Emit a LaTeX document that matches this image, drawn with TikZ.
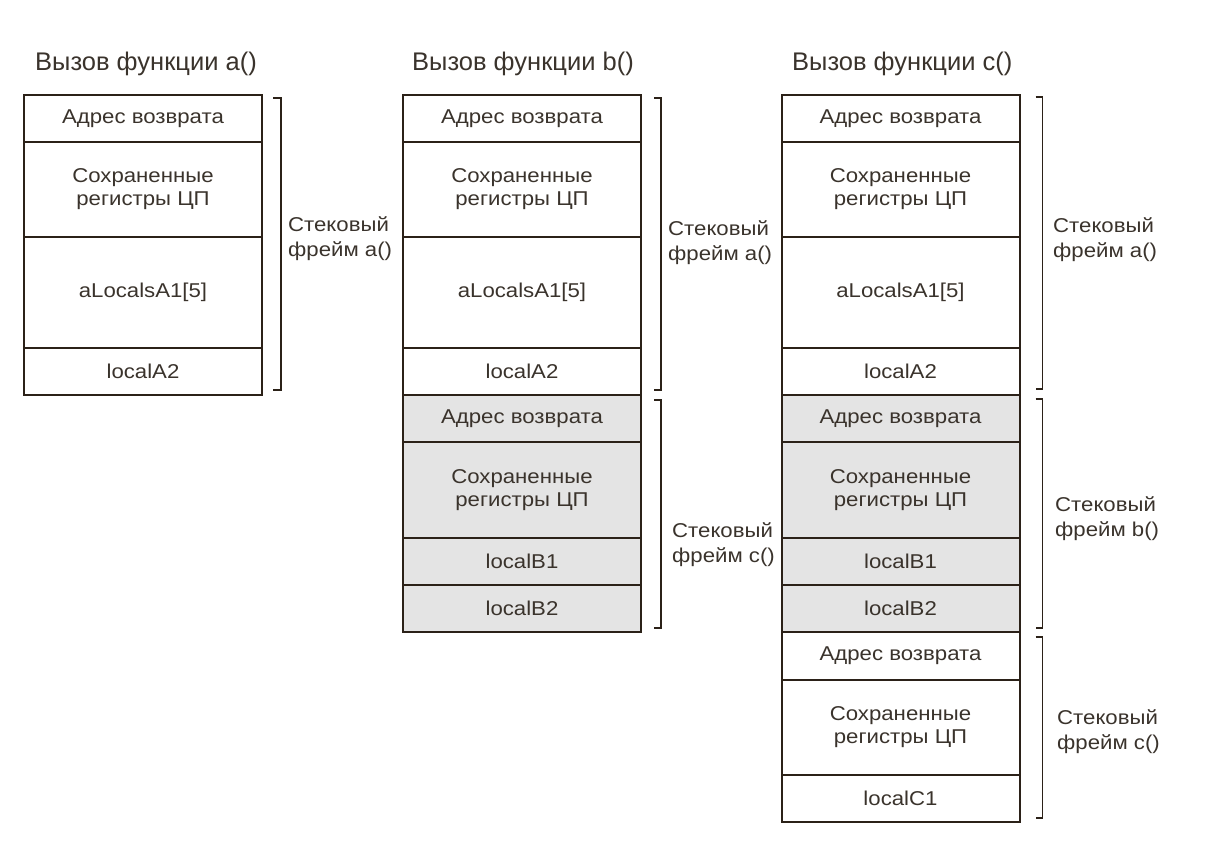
\documentclass[tikz,border=0pt]{standalone}
\usepackage{fontspec}
\setmainfont{Liberation Sans}
\newfontfamily\cellfont[FakeStretch=1.11]{Liberation Sans}
\usetikzlibrary{positioning,calc}
\definecolor{stackline}{HTML}{2B2118}
\definecolor{stacktext}{HTML}{3A332C}
\definecolor{stackgray}{HTML}{E4E4E4}
\tikzset{
  cellnode/.style args={#1,#2}{
  draw=stackline,
  line width=2pt,
  outer sep=0pt,
  inner sep=0pt,
  text=stacktext,
  align=center,
  font=\cellfont\fontsize{20}{23}\selectfont,
  minimum width=#1pt,
  minimum height=#2pt,
  },
  graycell/.style args={#1,#2}{cellnode={#1,#2},fill=stackgray},
  calltitle/.style={inner sep=0pt,anchor=base west,text=stacktext,
   font=\fontsize{25.5}{30}\selectfont},
  framelabel/.style={inner sep=0pt,anchor=west,align=left,text=stacktext,
   font=\cellfont\fontsize{20}{25}\selectfont},
  brace/.style={draw=stackline,line width=1.6pt}
}
\begin{document}
\begin{tikzpicture}[x=1pt,y=1pt]
  \useasboundingbox (0,0) rectangle (1227,-844);

  % call a()
  \node [calltitle] (ta) at (35,-70) {Вызов функции a()};
  \node [cellnode={238,47},anchor=north west] (a1) at (24,-95) {Адрес возврата};
  \node [cellnode={238,95},below=0pt of a1] (a2) {Сохраненные\\регистры ЦП};
  \node [cellnode={238,111},below=0pt of a2] (a3) {aLocalsA1[5]};
  \node [cellnode={238,47},below=0pt of a3] (a4) {localA2};

  \draw [brace] ($(a1.north east)+(11,-3)$) -- ++(8,0) -- ($(a4.south east)+(19,5)$) -- ++(-8,0);
  \node [framelabel] (fa) at (288,-238.5) {Стековый\\фрейм a()};

  % call b()
  \node [calltitle] (tb) at (412,-70) {Вызов функции b()};
  \node [cellnode={238,47},anchor=north west] (b1) at (403,-95) {Адрес возврата};
  \node [cellnode={238,95},below=0pt of b1] (b2) {Сохраненные\\регистры ЦП};
  \node [cellnode={238,111},below=0pt of b2] (b3) {aLocalsA1[5]};
  \node [cellnode={238,47},below=0pt of b3] (b4) {localA2};
  \node [graycell={238,47},below=0pt of b4] (b5) {Адрес возврата};
  \node [graycell={238,96},below=0pt of b5] (b6) {Сохраненные\\регистры ЦП};
  \node [graycell={238,47},below=0pt of b6] (b7) {localB1};
  \node [graycell={238,47},below=0pt of b7] (b8) {localB2};

  \draw [brace] ($(b1.north east)+(13,-3)$) -- ++(7,0) -- ($(b4.south east)+(20,5)$) -- ++(-7,0);
  \draw [brace] ($(b5.north east)+(13,-5)$) -- ++(7,0) -- ($(b8.south east)+(20,4)$) -- ++(-7,0);
  \node [framelabel] (fb1) at (668,-242.5) {Стековый\\фрейм a()};
  \node [framelabel] (fb2) at (672,-545) {Стековый\\фрейм c()};

  % call c()
  \node [calltitle] (tc) at (792,-70) {Вызов функции c()};
  \node [cellnode={238,47},anchor=north west] (c1) at (781.5,-95) {Адрес возврата};
  \node [cellnode={238,95},below=0pt of c1] (c2) {Сохраненные\\регистры ЦП};
  \node [cellnode={238,111},below=0pt of c2] (c3) {aLocalsA1[5]};
  \node [cellnode={238,47},below=0pt of c3] (c4) {localA2};
  \node [graycell={238,47},below=0pt of c4] (c5) {Адрес возврата};
  \node [graycell={238,96},below=0pt of c5] (c6) {Сохраненные\\регистры ЦП};
  \node [graycell={238,47},below=0pt of c6] (c7) {localB1};
  \node [graycell={238,47},below=0pt of c7] (c8) {localB2};
  \node [cellnode={238,48},below=0pt of c8] (c9) {Адрес возврата};
  \node [cellnode={238,95},below=0pt of c9] (c10) {Сохраненные\\регистры ЦП};
  \node [cellnode={238,47},below=0pt of c10] (c11) {localC1};

  \draw [brace] ($(c1.north east)+(16,-2)$) -- ++(7,0) -- ($(c4.south east)+(23,6)$) -- ++(-7,0);
  \draw [brace] ($(c5.north east)+(16,-4)$) -- ++(7,0) -- ($(c8.south east)+(23,4)$) -- ++(-7,0);
  \draw [brace] ($(c9.north east)+(16,-5)$) -- ++(7,0) -- ($(c11.south east)+(23,4)$) -- ++(-7,0);
  \node [framelabel] (fc1) at (1053,-239.5) {Стековый\\фрейм a()};
  \node [framelabel] (fc2) at (1055,-519) {Стековый\\фрейм b()};
  \node [framelabel] (fc3) at (1057,-732) {Стековый\\фрейм c()};
\end{tikzpicture}
\end{document}
